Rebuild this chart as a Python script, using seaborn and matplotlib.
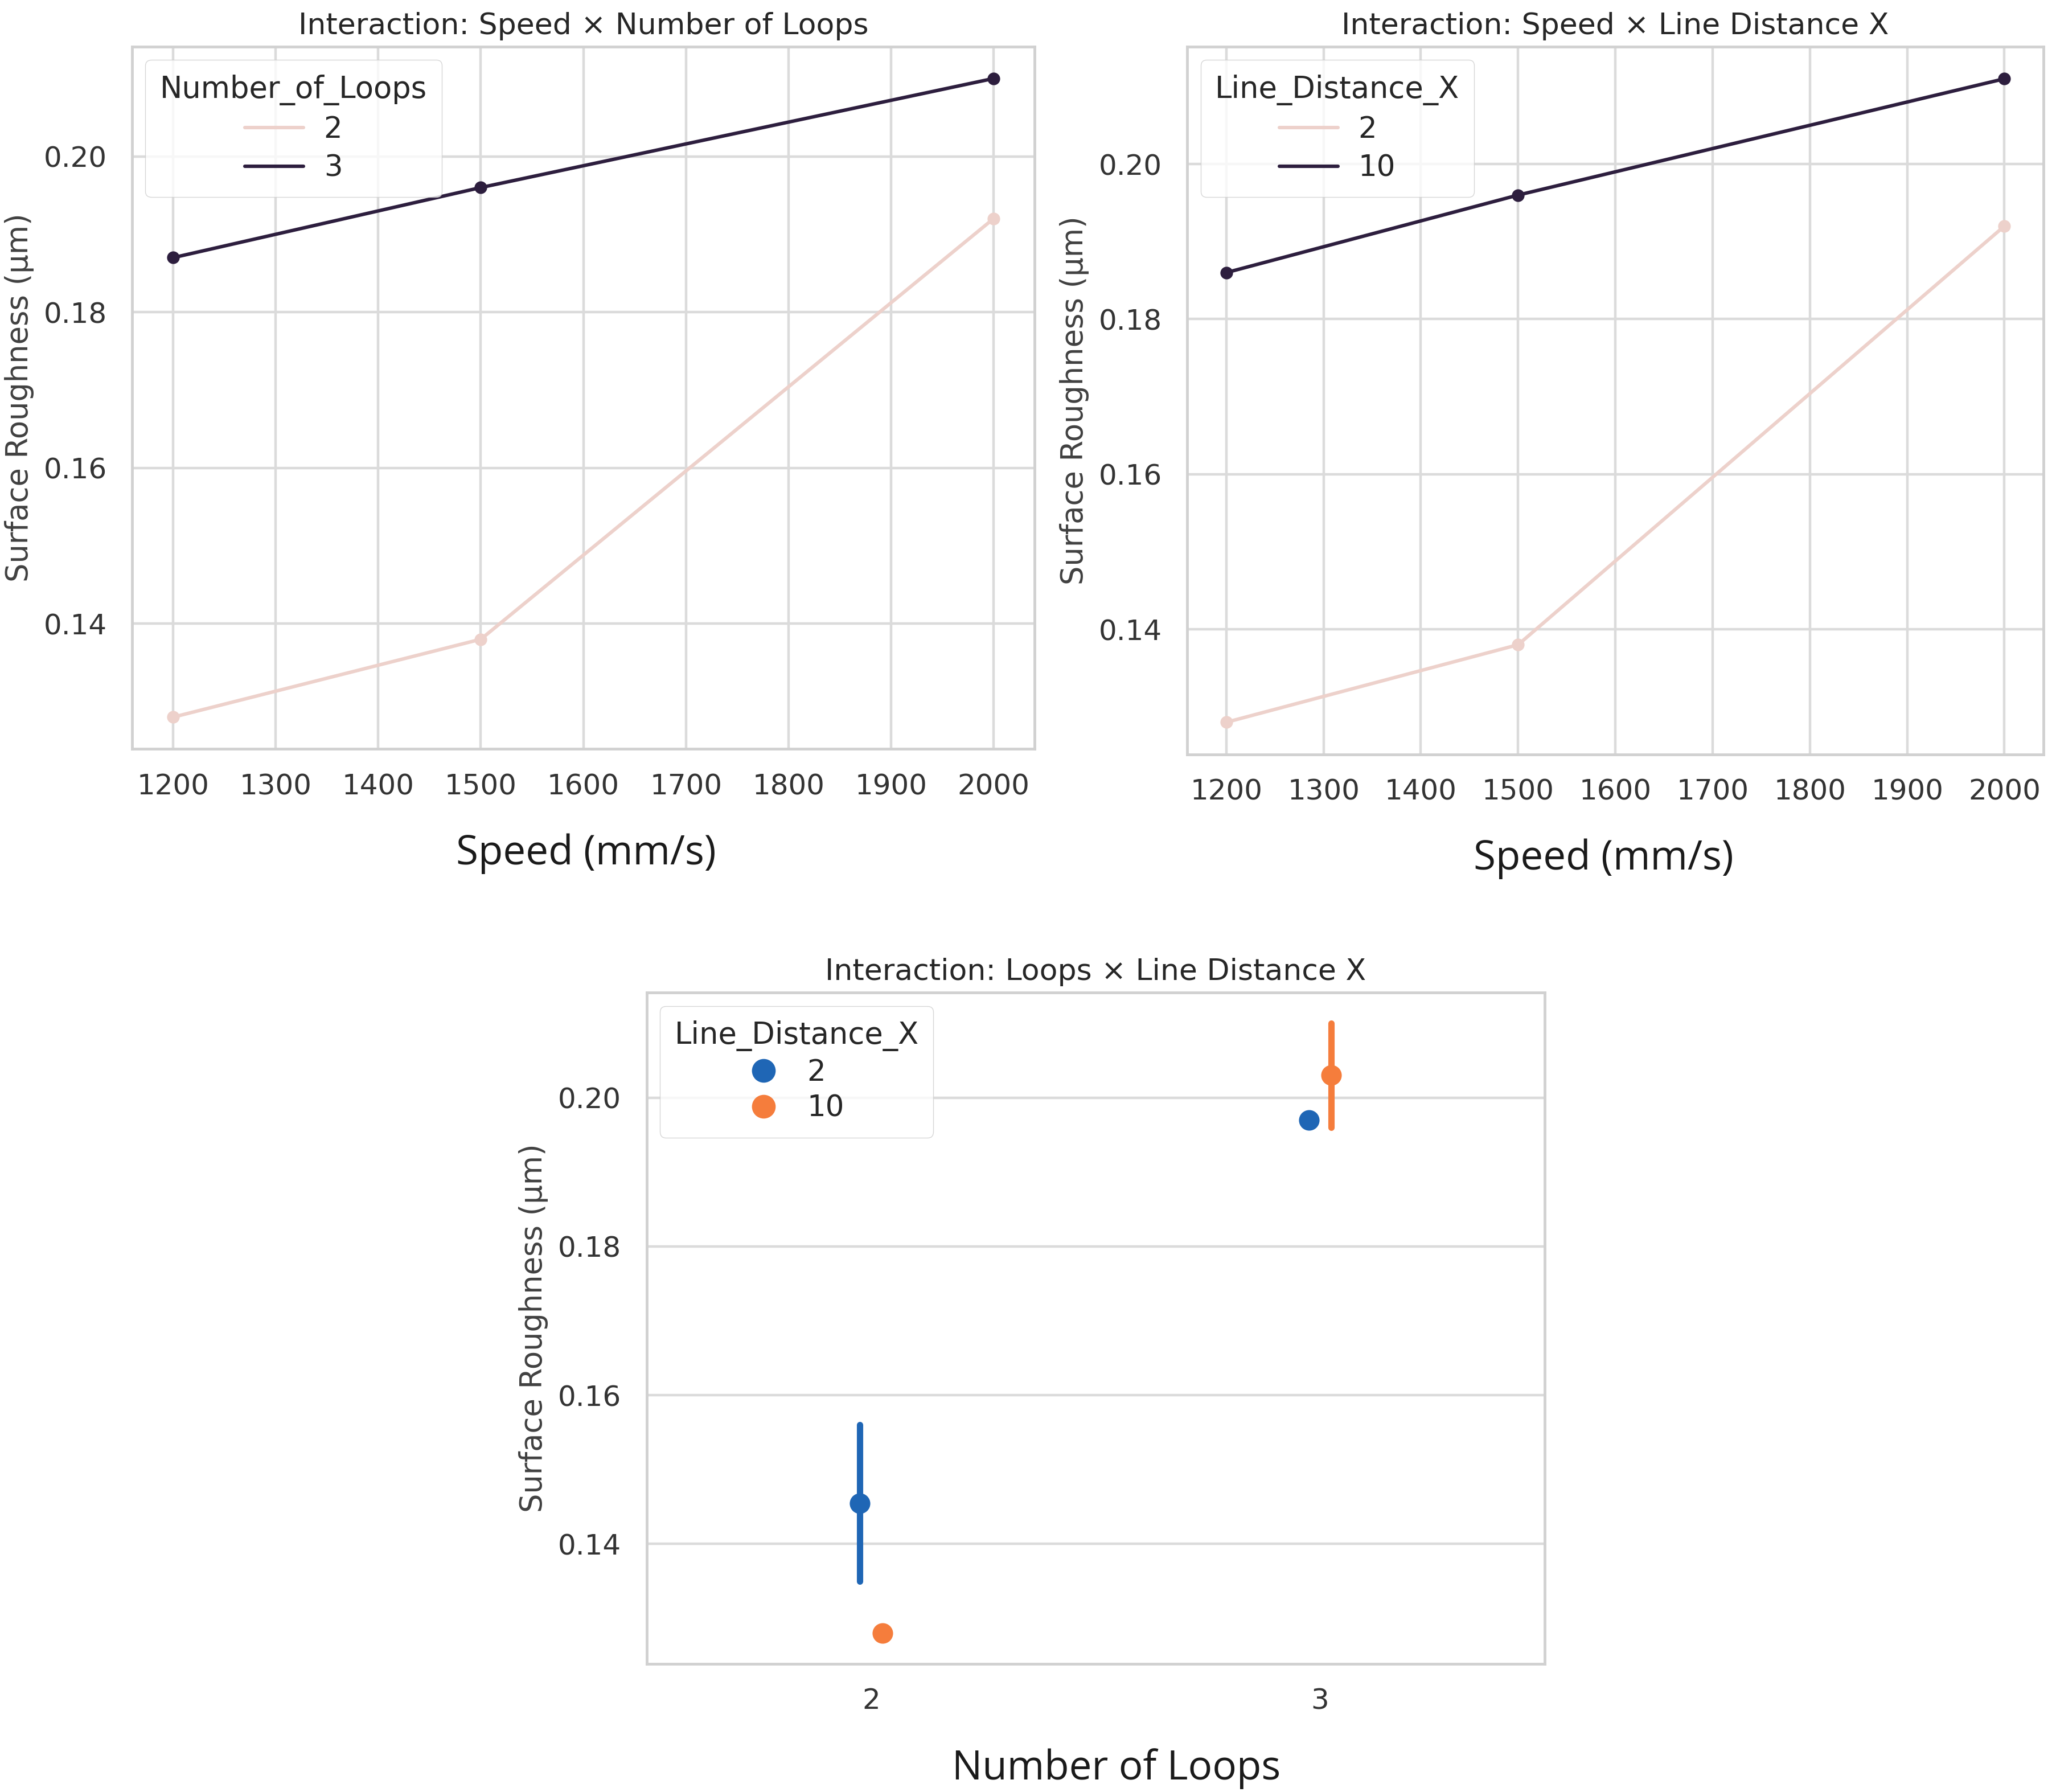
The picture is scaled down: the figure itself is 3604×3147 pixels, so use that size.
import pandas as pd
import seaborn as sns
import matplotlib
matplotlib.use("Agg")
import matplotlib.pyplot as plt

sns.set_theme(style="whitegrid", rc={
    "axes.edgecolor": "0.82",
    "grid.color": "0.86",
    "axes.linewidth": 3.5,
    "grid.linewidth": 3.2,
})
plt.rcParams['font.family'] = ['DejaVu Sans']

# top left: speed x number of loops
speed = [1200, 1500, 2000]
loops_2 = [0.128, 0.138, 0.192]
loops_3 = [0.187, 0.196, 0.210]

# top right: speed x line distance x
ldx_2 = [0.128, 0.138, 0.192]
ldx_10 = [0.186, 0.196, 0.211]

# bottom: loops x line distance x (raw observations)
obs_loops = [2, 2, 2, 3, 3, 3]
obs_ldx = [2, 2, 10, 2, 10, 10]
obs_ra = [0.135, 0.156, 0.128, 0.197, 0.196, 0.210]

point_colors = ["#1f66b5", "#f57d3c"]

TICK = 36
TITLE = 37.5
YLAB = 38
XLAB = 51
LEG = 37

df_loops = pd.DataFrame({
    "Speed": speed * 2,
    "Number_of_Loops": [2] * 3 + [3] * 3,
    "Surface_Roughness": loops_2 + loops_3,
})
df_ldx = pd.DataFrame({
    "Speed": speed * 2,
    "Line_Distance_X": [2] * 3 + [10] * 3,
    "Surface_Roughness": ldx_2 + ldx_10,
})
df_obs = pd.DataFrame({
    "Number_of_Loops": obs_loops,
    "Line_Distance_X": obs_ldx,
    "Surface_Roughness": obs_ra,
})


def style_axis(ax, title, xlabel, lines=True, xlabel_x=0.5):
    ax.set_title(title, fontsize=TITLE, pad=16, color="0.15")
    ax.set_xlabel(xlabel, fontsize=XLAB, family=["Open Sans", "DejaVu Sans"], labelpad=42, color="0.1")
    ax.xaxis.label.set_x(xlabel_x)
    ax.set_ylabel("Surface Roughness (μm)", fontsize=YLAB, color="0.25", labelpad=12)
    ax.tick_params(axis="x", labelsize=TICK, colors="0.2", pad=24)
    ax.tick_params(axis="y", labelsize=TICK, colors="0.2", pad=26)
    handles, labels = ax.get_legend_handles_labels()
    title_text = ax.get_legend().get_title().get_text()
    if lines:
        for h in handles:
            h.set_marker("")
    ax.legend(handles, labels, title=title_text, loc="upper left", frameon=True,
              fontsize=LEG, title_fontsize=LEG + 1, borderpad=0.5,
              handlelength=2.0 if lines else 1.0, handletextpad=0.7 if lines else 1.0,
              markerscale=1.2, labelspacing=0.35 if lines else 0.25, borderaxespad=0.45)


fig = plt.figure(figsize=(36.05, 31.47), dpi=100)

ax1 = fig.add_axes([0.0644, 0.582, 0.4396, 0.392])
sns.lineplot(data=df_loops, x="Speed", y="Surface_Roughness", hue="Number_of_Loops",
             marker="o", markersize=16, markeredgewidth=0, linewidth=4.4, ax=ax1)
style_axis(ax1, "Interaction: Speed × Number of Loops", "Speed (mm/s)", xlabel_x=0.503)

ax2 = fig.add_axes([0.5785, 0.579, 0.417, 0.395])
sns.lineplot(data=df_ldx, x="Speed", y="Surface_Roughness", hue="Line_Distance_X",
             marker="o", markersize=16, markeredgewidth=0, linewidth=4.4, ax=ax2)
style_axis(ax2, "Interaction: Speed × Line Distance X", "Speed (mm/s)", xlabel_x=0.486)

ax3 = fig.add_axes([0.315, 0.0716, 0.4375, 0.3744])
sns.pointplot(data=df_obs, x="Number_of_Loops", y="Surface_Roughness", hue="Line_Distance_X",
              palette=point_colors, linestyle="none", dodge=True,
              errorbar=lambda v: (v.min(), v.max()), markersize=20, linewidth=8, ax=ax3)
style_axis(ax3, "Interaction: Loops × Line Distance X", "Number of Loops", lines=False, xlabel_x=0.523)

fig.savefig("out.png", dpi=100)
